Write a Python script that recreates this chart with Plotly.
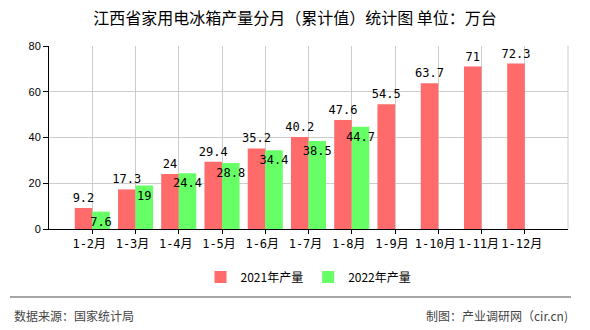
import plotly.graph_objects as go

categories = ["1-2月", "1-3月", "1-4月", "1-5月", "1-6月", "1-7月", "1-8月", "1-9月", "1-10月", "1-11月", "1-12月"]
values_2021 = [9.2, 17.3, 24, 29.4, 35.2, 40.2, 47.6, 54.5, 63.7, 71, 72.3]
values_2022 = [7.6, 19, 24.4, 28.8, 34.4, 38.5, 44.7]
y_ticks = [0, 20, 40, 60, 80]

num_font = dict(family="DejaVu Sans Mono, Noto Sans CJK SC", size=12, color="#000")

fig = go.Figure()
fig.add_trace(go.Bar(
    name="2021年产量", x=categories, y=values_2021,
    marker=dict(color="#FF6A6A", line=dict(width=0)),
    text=[str(v) for v in values_2021], textposition="outside",
    textangle=0, constraintext="none",
    textfont=num_font, cliponaxis=False,
))
fig.add_trace(go.Bar(
    name="2022年产量", x=categories[:len(values_2022)], y=values_2022,
    marker=dict(color="#66FF66", line=dict(width=0)),
    text=[str(v) for v in values_2022], textposition="inside",
    textangle=0, constraintext="none",
    insidetextanchor="end", textfont=num_font, cliponaxis=False,
))

fig.update_layout(
    width=590, height=330,
    margin=dict(l=49, r=22, t=46, b=101),
    paper_bgcolor="white", plot_bgcolor="white",
    barmode="group", bargap=0.19, bargroupgap=0,
    title=dict(
        text="江西省家用电冰箱产量分月（累计值）统计图 单位：万台",
        x=0.5, xanchor="center", y=1 - 18 / 330, yanchor="middle",
        font=dict(family="Noto Sans CJK SC", size=16, color="#000"),
    ),
    showlegend=True,
    legend=dict(
        orientation="h", x=0.5, xanchor="center", y=-(277 - 229) / 183, yanchor="middle",
        font=dict(family="Noto Sans CJK SC", size=12, color="#000"),
        itemwidth=30, traceorder="normal",
    ),
    xaxis=dict(
        type="category", categoryorder="array", categoryarray=categories,
        range=[-1, len(categories)],
        showgrid=True, gridcolor="#CCCCCC", gridwidth=1,
        showline=True, linecolor="#000", linewidth=1,
        ticks="outside", ticklen=4, tickcolor="#000",
        tickfont=dict(family="DejaVu Sans Mono, Noto Sans CJK SC", size=12, color="#000"),
        ticklabelshift=-3,
        fixedrange=True,
    ),
    yaxis=dict(
        range=[0, 80], tickvals=y_ticks,
        showgrid=True, gridcolor="#CCCCCC", gridwidth=1,
        showline=True, linecolor="#000", linewidth=1,
        ticks="outside", ticklen=5, tickcolor="#000",
        tickfont=dict(family="Liberation Sans", size=11, color="#000"),
        zeroline=False, fixedrange=True,
    ),
    shapes=[
        dict(type="line", xref="x domain", yref="y domain", x0=1, x1=1, y0=0, y1=1,
             line=dict(color="#CCCCCC", width=1)),
        dict(type="line", xref="paper", yref="paper",
             x0=(10 - 49) / 519, x1=1 + (571 - 568) / 519,
             y0=-(297 - 229) / 183, y1=-(297 - 229) / 183,
             line=dict(color="#888888", width=1.5)),
    ],
    annotations=[
        dict(text="数据来源：国家统计局", xref="paper", yref="paper",
             x=(12 - 49) / 519, xanchor="left", y=-(315 - 229) / 183, yanchor="middle",
             showarrow=False, font=dict(family="Noto Sans CJK SC", size=12, color="#444")),
        dict(text="制图：产业调研网（cir.cn)", xref="paper", yref="paper",
             x=1 + (570 - 568) / 519, xanchor="right", y=-(315 - 229) / 183, yanchor="middle",
             showarrow=False, font=dict(family="Noto Sans CJK SC", size=12, color="#444")),
    ],
)

fig.write_html("out.html")
